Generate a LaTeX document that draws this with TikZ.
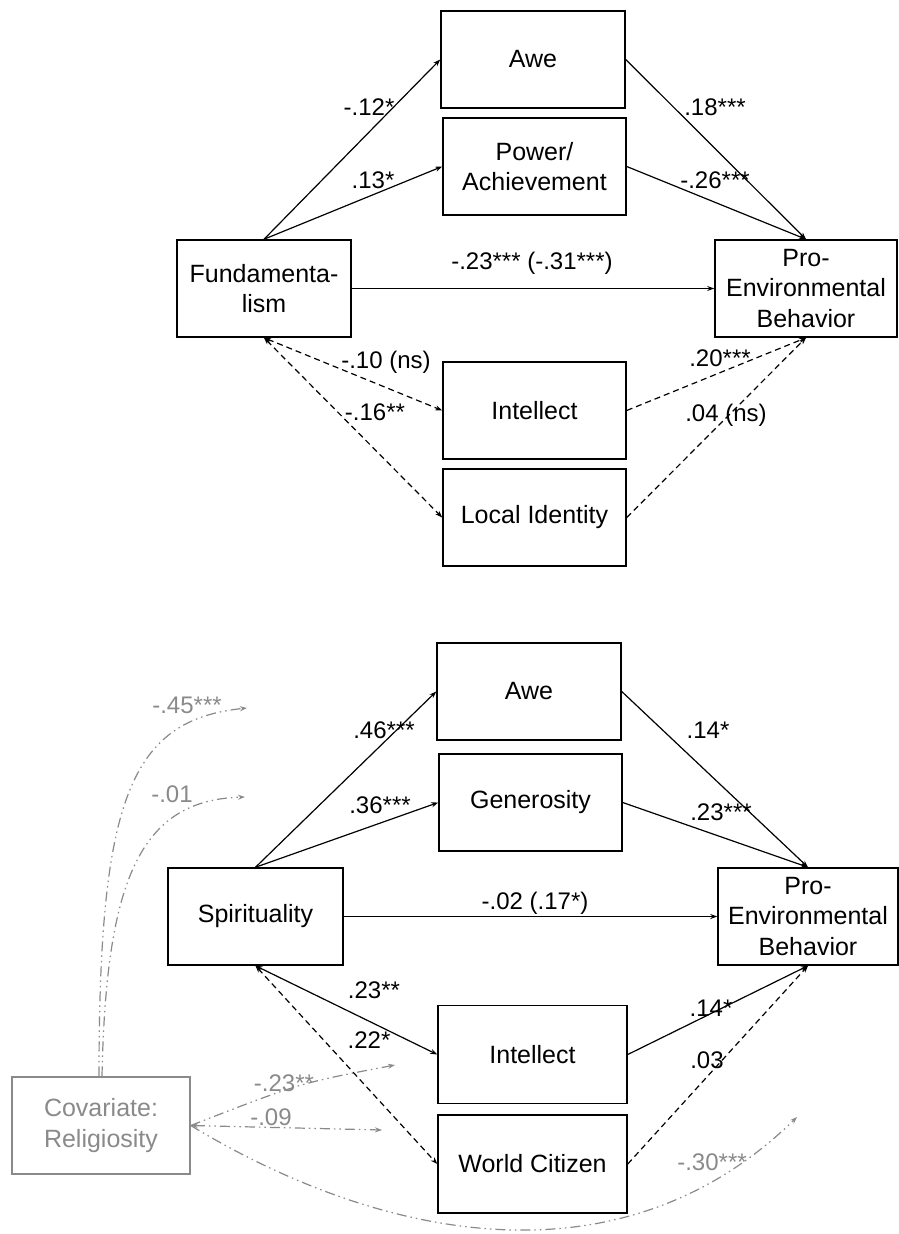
\documentclass[tikz,border=0pt]{standalone}
\usepackage{fontspec}
\setmainfont{Liberation Sans}
\usetikzlibrary{arrows.meta}
\definecolor{covgray}{HTML}{8A8A8A}
\tikzset{
  box/.style={draw, line width=1.5pt, minimum height=97pt, align=center, inner sep=0pt,
              font=\fontsize{25}{30.5}\selectfont},
  lbl/.style={font=\fontsize{24}{28}\selectfont, inner sep=0pt},
  glbl/.style={lbl, text=covgray},
  arr/.style={line width=1.2pt, -{Stealth[length=7pt,width=5pt]}},
  darr/.style={line width=1.2pt, {Stealth[length=7pt,width=5pt]}-{Stealth[length=7pt,width=5pt]}},
  dsh/.style={dash pattern=on 6pt off 4pt},
  covline/.style={line width=1.2pt, draw=covgray, dash pattern=on 10pt off 4pt on 1.5pt off 4pt on 1.5pt off 4pt},
  covtip/.style={-{Stealth[length=7pt,width=5pt]}},
  covtips/.style={{Stealth[length=7pt,width=5pt]}-{Stealth[length=7pt,width=5pt]}}
}
\begin{document}
\begin{tikzpicture}[x=1pt,y=-1pt]
\useasboundingbox (0,0) rectangle (898,1234);
% ---------- top diagram ----------
\node[box, minimum width=184pt] (awe1) at (533,59.5) {Awe};
\node[box, minimum width=183pt] (pa1) at (534.5,166.5) {Power/\\Achievement};
\node[box, minimum width=174pt] (fund) at (264,288.5) {Fundamenta-\\lism};
\node[box, minimum width=182pt] (peb1) at (806,288.5) {Pro-\\Environmental\\Behavior};
\node[box, minimum width=183pt] (int1) at (534.5,410.5) {Intellect};
\node[box, minimum width=183pt] (loc1) at (534.5,517.5) {Local Identity};

\draw[arr] (fund.north) -- (awe1.west);
\draw[arr] (fund.north) -- (pa1.west);
\draw[arr] (awe1.east) -- (peb1.north);
\draw[arr] (pa1.east) -- (peb1.north);
\draw[arr] (fund.east) -- (peb1.west);
\draw[darr,dsh] (fund.south) -- (int1.west);
\draw[darr,dsh] (fund.south) -- (loc1.west);
\draw[arr,dsh] (int1.east) -- (peb1.south);
\draw[arr,dsh] (loc1.east) -- (peb1.south);

\node[lbl] (l1) at (369,107) {-.12*};
\node[lbl] (l2) at (373,180) {.13*};
\node[lbl] (l3) at (715,107) {.18***};
\node[lbl] (l4) at (715,180) {-.26***};
\node[lbl] (l5) at (532,263) {-.23*** (-.31***)};
\node[lbl] (l6) at (386,362) {-.10 (ns)};
\node[lbl] (l7) at (375,412) {-.16**};
\node[lbl] (l8) at (720,358) {.20***};
\node[lbl] (l9) at (726,415) {.04 (ns)};

% ---------- bottom diagram ----------
\node[box, minimum width=184pt] (awe2) at (529,691.5) {Awe};
\node[box, minimum width=183pt] (gen2) at (530.5,802.5) {Generosity};
\node[box, minimum width=175pt] (spir) at (255.5,916.5) {Spirituality};
\node[box, minimum width=180pt] (peb2) at (808,916.5) {Pro-\\Environmental\\Behavior};
\node[box, minimum width=189pt, minimum height=98pt] (int2) at (532.5,1054.5) {Intellect};
\node[box, minimum width=189pt, minimum height=98pt] (wc2) at (532.5,1164) {World Citizen};
\node[box, minimum width=178pt, draw=covgray, text=covgray] (cov) at (101,1125.5) {Covariate:\\Religiosity};

\draw[arr] (spir.north) -- (awe2.west);
\draw[arr] (spir.north) -- (gen2.west);
\draw[arr] (awe2.east) -- (peb2.north);
\draw[arr] (gen2.east) -- (peb2.north);
\draw[arr] (spir.east) -- (peb2.west);
\draw[darr] (spir.south) -- (int2.west);
\draw[darr,dsh] (spir.south) -- (wc2.west);
\draw[arr] (int2.east) -- (peb2.south);
\draw[arr,dsh] (wc2.east) -- (peb2.south);

\node[lbl] (m1) at (384,730) {.46***};
\node[lbl] (m2) at (380,805) {.36***};
\node[lbl] (m3) at (708,730) {.14*};
\node[lbl] (m4) at (721,812) {.23***};
\node[lbl] (m5) at (535,903) {-.02 (.17*)};
\node[lbl] (m6) at (374,990) {.23**};
\node[lbl] (m7) at (369,1040) {.22*};
\node[lbl] (m8) at (711,1008) {.14*};
\node[lbl] (m9) at (707,1060) {.03};

% ---------- covariate paths ----------
\coordinate (cA) at ([xshift=-2pt]cov.north);
\coordinate (cB) at ([xshift=1pt]cov.north);
\coordinate (eA) at (247,708);
\coordinate (eB) at (245,797);
\coordinate (e23) at (395,1065);
\coordinate (e09) at (382,1130);
\coordinate (e30) at (797,1117);
\draw[covline, covtip, draw=covgray, fill=none] (cA) .. controls (99,800) and (130,720) .. (eA);
\draw[covline, covtip] (cB) .. controls (106,880) and (140,800) .. (eB);
\draw[covline, covtip] (cov.east) .. controls (300,1083) .. (e23);
\draw[covline, covtips] (cov.east) -- (e09);
\draw[covline, covtip] (cov.east) .. controls (380,1240) and (620,1290) .. (e30);

\node[glbl] (g1) at (187,705) {-.45***};
\node[glbl] (g2) at (172,794) {-.01};
\node[glbl] (g3) at (284,1083) {-.23**};
\node[glbl] (g4) at (271,1117) {-.09};
\node[glbl] (g5) at (712,1162) {-.30***};
\end{tikzpicture}
\end{document}
